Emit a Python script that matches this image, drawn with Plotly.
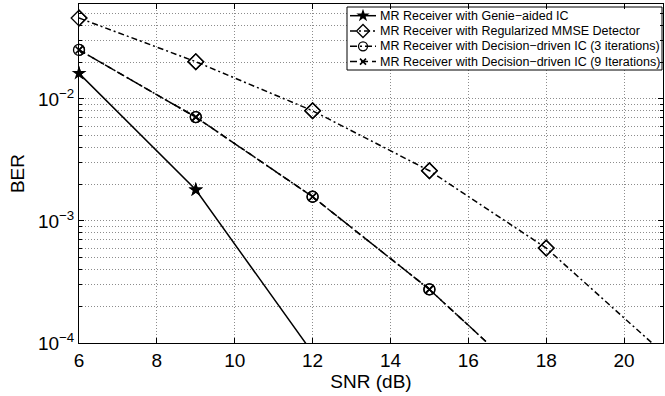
import plotly.graph_objects as go

genie_x = [6, 9, 12]
genie = [0.0162, 0.0018, 8.3e-5]
mmse_x = [6, 9, 12, 15, 18, 21]
mmse = [0.046, 0.0202, 0.0080, 0.00258, 0.0006, 8.3e-5]
dd_x = [6, 9, 12, 15, 18]
dd3 = [0.0252, 0.0071, 0.00158, 0.000275, 3.6e-5]
dd9 = [0.0252, 0.0071, 0.00158, 0.000275, 3.6e-5]

names = [
    "MR Receiver with Genie\u2212aided IC",
    "MR Receiver with Regularized MMSE Detector",
    "MR Receiver with Decision\u2212driven IC (3 iterations)",
    "MR Receiver with Decision\u2212driven IC (9 Iterations)",
]

xticks = [6, 8, 10, 12, 14, 16, 18, 20]
yticks = [1e-4, 1e-3, 1e-2]
yticktext = ["10<sup>\u22124</sup>", "10<sup>\u22123</sup>", "10<sup>\u22122</sup>"]
minor_y = [m * 10 ** e for e in (-4, -3, -2) for m in range(2, 10)]

YMIN, YMAX = 1e-4, 10 ** -1.222
XMIN, XMAX = 6, 21

# plot area in pixels (for the overlay used by the legend)
L, R, T, B = 79, 663, 4, 343

series = [
    (genie_x, genie, None,
     dict(symbol="star", size=11, color="black"), 10),
    (mmse_x, mmse, "6px,3px,2px,3px",
     dict(symbol="diamond-open", size=12, color="black", line=dict(width=1.3, color="black")), 10),
    (dd_x, dd3, "7px,3px,2px,3px",
     dict(symbol="circle-open", size=11, color="black", line=dict(width=1.3, color="black")), 9),
    (dd_x, dd9, "7px,4px",
     dict(symbol="x-thin-open", size=7, color="black", line=dict(width=1.6, color="black")), 6),
]

fig = go.Figure()
lw = 1.5
for xs, ys, dash, mk, _ in series:
    fig.add_trace(go.Scatter(x=xs, y=ys, mode="lines+markers",
                             line=dict(color="black", width=lw, dash=dash),
                             marker=mk, showlegend=False))
for xs, ys, dash, mk, _ in series:
    pts = [(a, b) for a, b in zip(xs, ys) if XMIN <= a <= XMAX and YMIN <= b <= YMAX]
    fig.add_trace(go.Scatter(x=[p[0] for p in pts], y=[p[1] for p in pts], mode="markers",
                             marker=mk, showlegend=False, cliponaxis=False, hoverinfo="skip"))

# ---- legend drawn on a pixel overlay ----
bx0, bx1, by0, by1 = 347, 662, 7, 70
fig.add_trace(go.Scatter(x=[bx0, bx1, bx1, bx0, bx0], y=[by0, by0, by1, by1, by0],
                         mode="lines", fill="toself", fillcolor="white",
                         line=dict(color="black", width=1),
                         xaxis="x2", yaxis="y2", showlegend=False, hoverinfo="skip",
                         cliponaxis=False))
item_y = [15.7, 31.0, 46.3, 61.6]
for (xs, ys, dash, mk, lsz), nm, yc in zip(series, names, item_y):
    fig.add_trace(go.Scatter(x=[350, 376], y=[yc, yc], mode="lines",
                             line=dict(color="black", width=lw, dash=dash),
                             xaxis="x2", yaxis="y2", showlegend=False, hoverinfo="skip",
                             cliponaxis=False))
    m2 = dict(mk)
    m2["size"] = lsz
    fig.add_trace(go.Scatter(x=[363], y=[yc], mode="markers", marker=m2,
                             xaxis="x2", yaxis="y2", showlegend=False, hoverinfo="skip",
                             cliponaxis=False))
    fig.add_annotation(x=378, y=yc, xref="x2", yref="y2", text=nm, showarrow=False,
                       xanchor="left", yanchor="middle",
                       font=dict(size=12.5, color="black"))

grid = dict(showgrid=True, gridcolor="#8c8c8c", griddash="1px,2px", gridwidth=1)
fig.update_layout(
    width=665, height=396,
    margin=dict(l=L, r=665 - R, t=T, b=396 - B),
    paper_bgcolor="white", plot_bgcolor="white",
    font=dict(family="Liberation Sans, Arial, sans-serif", size=19, color="black"),
    showlegend=False,
)
fig.update_xaxes(
    range=[XMIN, XMAX], tickvals=xticks, ticks="inside", ticklen=5, tickcolor="black",
    showline=True, linecolor="black", linewidth=1, mirror="allticks",
    zeroline=False,
    title=dict(text="SNR (dB)", standoff=2, font=dict(size=19)),
    tickfont=dict(size=19), **grid,
)
fig.update_yaxes(
    type="log", range=[-4, -1.222], tickvals=yticks, ticktext=yticktext,
    ticks="inside", ticklen=5, tickcolor="black",
    showline=True, linecolor="black", linewidth=1, mirror="allticks",
    minor=dict(tickvals=minor_y, ticks="inside", ticklen=3, tickcolor="black", **grid),
    title=dict(text="BER", standoff=8, font=dict(size=19)),
    tickfont=dict(size=19), **grid,
)
fig.layout.yaxis2 = dict(overlaying="y", anchor="x2", range=[B, T], visible=False,
                         side="right", type="linear", showgrid=False)
fig.layout.xaxis2 = dict(overlaying="x", anchor="y2", range=[L, R], visible=False,
                         side="top", showgrid=False)

fig.write_html("out.html")
